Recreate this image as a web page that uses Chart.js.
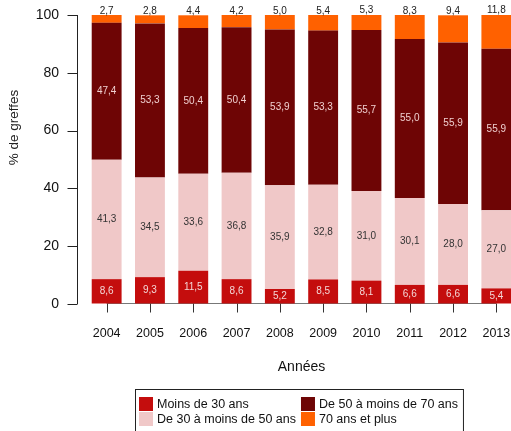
<!DOCTYPE html>
<html>
<head>
<meta charset="utf-8">
<script src="https://cdn.jsdelivr.net/npm/chart.js@4"></script>
<style>
  html, body { margin: 0; padding: 0; background: #fff; overflow: hidden; }
  canvas { display: block; }
</style>
</head>
<body>
<canvas id="chart" width="518" height="431"></canvas>
<script>
// données (% de greffes par tranche d'âge)
var years = ["2004", "2005", "2006", "2007", "2008", "2009", "2010", "2011", "2012", "2013"];
var seriesNames = ["Moins de 30 ans", "De 30 à moins de 50 ans", "De 50 à moins de 70 ans", "70 ans et plus"];
var moins30 = [8.6, 9.3, 11.5, 8.6, 5.2, 8.5, 8.1, 6.6, 6.6, 5.4];
var de30a50 = [41.3, 34.5, 33.6, 36.8, 35.9, 32.8, 31.0, 30.1, 28.0, 27.0];
var de50a70 = [47.4, 53.3, 50.4, 50.4, 53.9, 53.3, 55.7, 55.0, 55.9, 55.9];
var plus70 = [2.7, 2.8, 4.4, 4.2, 5.0, 5.4, 5.3, 8.3, 9.4, 11.8];
var yTicks = [0, 20, 40, 60, 80, 100];

var colors = ["#C40D0D", "#F0C8C8", "#6E0505", "#FF6100"];
var labelColors = ["#F3D6D6", "#333333", "#F0D0D0", "#222222"];
var FONT = "'Liberation Sans', Arial, sans-serif";

function fmt(v) {
    return v.toFixed(1).replace(".", ",");
}

// axes façon R + étiquettes de valeurs + légende encadrée
var rStyle = {
    id: "rStyle",
    beforeDatasetsDraw: function (chart) {
        var ctx = chart.ctx;
        var x = chart.scales.x, y = chart.scales.y;
        var base = Math.round(y.getPixelForValue(0)) - 0.5;
        ctx.save();
        ctx.lineWidth = 1;
        ctx.strokeStyle = "#777";
        ctx.beginPath();
        ctx.moveTo(x.getPixelForValue(0), base);
        ctx.lineTo(x.getPixelForValue(years.length - 1), base);
        ctx.stroke();
        ctx.strokeStyle = "#333";
        ctx.beginPath();
        years.forEach(function (yr, i) {
            var px = Math.round(x.getPixelForValue(i)) + 0.5;
            ctx.moveTo(px, base);
            ctx.lineTo(px, base + 9);
        });
        ctx.stroke();
        ctx.restore();
    },
    afterDatasetsDraw: function (chart) {
        var ctx = chart.ctx;
        ctx.save();
        ctx.font = "10px " + FONT;
        ctx.textAlign = "center";
        ctx.textBaseline = "middle";
        chart.data.datasets.forEach(function (ds, di) {
            var meta = chart.getDatasetMeta(di);
            meta.data.forEach(function (bar, i) {
                var v = ds.data[i];
                ctx.fillStyle = labelColors[di];
                if (di === chart.data.datasets.length - 1) {
                    ctx.fillText(fmt(v), bar.x, Math.min(bar.y, bar.base) - 4);
                } else {
                    ctx.fillText(fmt(v), bar.x, (bar.y + bar.base) / 2);
                }
            });
        });
        ctx.restore();
    },
    afterDraw: function (chart) {
        var ctx = chart.ctx;
        var area = chart.chartArea;
        var y = chart.scales.y;
        ctx.save();

        // axe des ordonnées décalé
        var ax = area.left - 8 + 0.5;
        ctx.strokeStyle = "#222";
        ctx.lineWidth = 1;
        ctx.beginPath();
        ctx.moveTo(ax, y.getPixelForValue(0));
        ctx.lineTo(ax, y.getPixelForValue(100));
        yTicks.forEach(function (t) {
            var py = Math.round(y.getPixelForValue(t)) + 0.5;
            ctx.moveTo(ax - 10, py);
            ctx.lineTo(ax, py);
        });
        ctx.stroke();

        // titre de l'axe y
        ctx.fillStyle = "#222";
        ctx.font = "13.5px " + FONT;
        ctx.textAlign = "center";
        ctx.textBaseline = "middle";
        ctx.translate(14, (area.top + area.bottom) / 2 - 32);
        ctx.rotate(-Math.PI / 2);
        ctx.fillText("% de greffes", 0, 0);
        ctx.setTransform(1, 0, 0, 1, 0, 0);

        // légende
        ctx.font = "12.5px " + FONT;
        var w1 = Math.max(ctx.measureText(seriesNames[0]).width, ctx.measureText(seriesNames[1]).width);
        var w2 = Math.max(ctx.measureText(seriesNames[2]).width, ctx.measureText(seriesNames[3]).width);
        var col1 = 14 + 4 + w1 + 5;
        var boxW = 4 + col1 + 14 + 4 + w2 + 5;
        var bx = Math.round((area.left + area.right) / 2 - 3 - boxW / 2) + 0.5;
        var by = 389.5;
        ctx.strokeStyle = "#222";
        ctx.strokeRect(bx, by, boxW, 46);
        ctx.textAlign = "left";
        seriesNames.forEach(function (name, i) {
            var col = Math.floor(i / 2), row = i % 2;
            var sx = bx + 3.5 + col * col1;
            var sy = by + 7.5 + row * 15;
            ctx.fillStyle = colors[i];
            ctx.fillRect(sx, sy, 14, 14);
            ctx.fillStyle = "#111";
            ctx.fillText(name, sx + 18, sy + 8);
        });
        ctx.restore();
    }
};

var ctx = document.getElementById("chart");
new Chart(ctx, {
    type: "bar",
    data: {
        labels: years,
        datasets: [moins30, de30a50, de50a70, plus70].map(function (d, i) {
            return {
                label: seriesNames[i],
                data: d,
                backgroundColor: colors[i],
                borderWidth: 0,
                barPercentage: 0.69,
                categoryPercentage: 1
            };
        })
    },
    options: {
        responsive: false,
        animation: false,
        devicePixelRatio: 1,
        layout: { padding: { top: 15, right: 0, left: 0, bottom: 0 } },
        plugins: {
            legend: { display: false },
            tooltip: { enabled: false }
        },
        scales: {
            x: {
                stacked: true,
                offset: true,
                border: { display: false },
                // marques invisibles (tracées par le plugin) : écart des étiquettes
                grid: {
                    display: true,
                    drawOnChartArea: false,
                    offset: false,
                    tickLength: 22,
                    color: "rgba(0,0,0,0)"
                },
                ticks: {
                    color: "#111",
                    font: { family: FONT, size: 12.5 },
                    padding: 0,
                    maxRotation: 0,
                    autoSkip: false
                },
                title: {
                    display: true,
                    text: "Années",
                    color: "#111",
                    font: { family: FONT, size: 14 },
                    padding: { top: 4, bottom: 55 }
                },
                afterFit: function (scale) { scale.height = 127; }
            },
            y: {
                stacked: true,
                min: 0,
                max: 100,
                border: { display: false },
                grid: {
                    display: true,
                    drawOnChartArea: false,
                    drawTicks: true,
                    tickLength: 26,
                    color: "rgba(0,0,0,0)"
                },
                afterBuildTicks: function (scale) {
                    scale.ticks = yTicks.map(function (v) { return { value: v }; });
                },
                ticks: {
                    color: "#111",
                    font: { family: FONT, size: 14 },
                    padding: 0
                },
                afterFit: function (scale) { scale.width = 85; }
            }
        }
    },
    plugins: [rStyle]
});
</script>
</body>
</html>
